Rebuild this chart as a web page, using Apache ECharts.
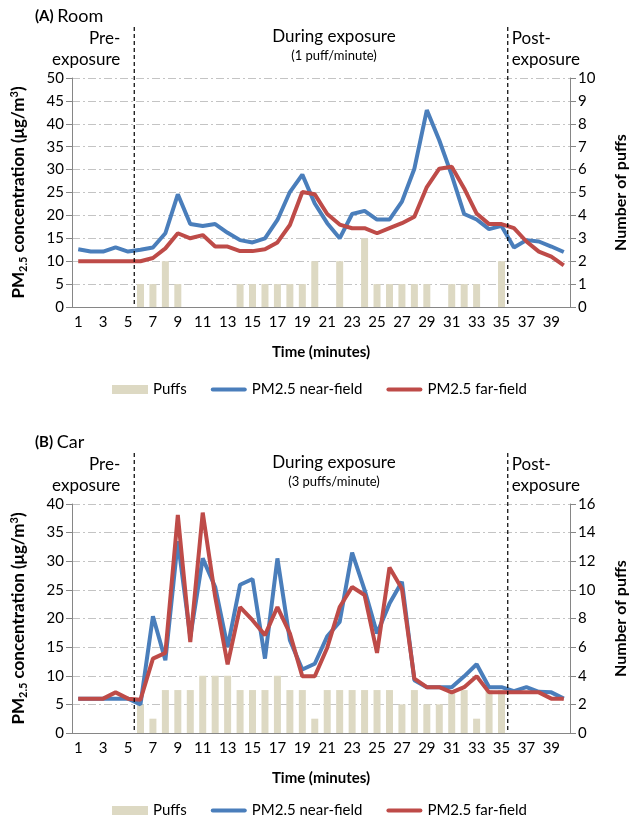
<!DOCTYPE html>
<html>
<head>
<meta charset="utf-8">
<script src="https://cdn.jsdelivr.net/npm/echarts@6/dist/echarts.min.js"></script>
<style>
html, body { margin: 0; padding: 0; background: #fff; }
#main { width: 638px; height: 821px; }
</style>
</head>
<body>
<div id="main"></div>
<script>
// minutes 1..40
var minutes = ['1','2','3','4','5','6','7','8','9','10','11','12','13','14','15','16','17','18','19','20',
               '21','22','23','24','25','26','27','28','29','30','31','32','33','34','35','36','37','38','39','40'];

// (A) Room
var roomPuffs = [0,0,0,0,0,1,1,2,1,0,0,0,0,1,1,1,1,1,1,2,0,2,0,3,1,1,1,1,1,0,1,1,1,0,2,0,0,0,0,0];
var roomNear = [12.6,12.1,12.1,13.0,12.1,12.5,13.0,16.1,24.6,18.1,17.7,18.1,16.2,14.6,14.1,15.0,19.0,25.1,28.9,22.6,
                18.3,15.0,20.3,21.0,19.1,19.1,23.0,30.2,43.0,36.4,28.8,20.3,19.1,17.0,17.7,13.0,14.6,14.3,13.2,12.0];
var roomFar = [10,10,10,10,10,10,10.7,12.8,16.1,15.0,15.7,13.2,13.2,12.2,12.2,12.6,14.1,17.9,25.1,24.6,
               20.3,18.0,17.2,17.2,16.1,17.2,18.3,19.7,26.2,30.2,30.6,25.9,20.4,18.1,18.1,17.2,14.3,12.1,11.0,9.1];

// (B) Car
var carPuffs = [0,0,0,0,0,2,1,3,3,3,4,4,4,3,3,3,4,3,3,1,3,3,3,3,3,3,2,3,2,2,3,3,1,3,3,0,0,0,0,0];
var carNear = [6,6,6,6,6,5.0,20.4,12.7,33.5,16.8,30.5,25.5,15.0,25.9,26.9,13.0,30.5,16.2,11.1,12.1,
               16.9,19.4,31.5,25.0,17.4,22.6,26.4,9.2,8.0,8.0,8.0,9.9,12.0,8.0,8.0,7.3,8.0,7.2,7.1,6.0];
var carFar = [6,6,6,7.1,6,5.8,13.0,14.0,38.1,15.9,38.5,23.8,12.0,22.0,19.7,17.1,22.0,17.4,9.9,9.9,
              14.9,22.0,25.5,24.1,14.0,28.9,25.2,9.5,8.0,8.0,7.1,8.0,9.9,7.1,7.1,7.1,7.1,7.1,6.0,6.0];

var FONT = 'Lato';
var axisGrey = '#868686';
var lineIcon = 'path://M2,0H34A2,2 0 0 1 34,4H2A2,2 0 0 1 2,0Z';

function xAxisOf(g) {
    return {
        type: 'category', gridIndex: g, data: minutes, boundaryGap: true,
        name: 'Time (minutes)', nameLocation: 'middle', nameGap: 38,
        nameTextStyle: { fontFamily: FONT, fontSize: 15, fontWeight: 'bold', color: '#000' },
        axisLine: { lineStyle: { color: axisGrey } },
        axisTick: { interval: 0, length: 5, lineStyle: { color: axisGrey } },
        axisLabel: { interval: 1, fontFamily: FONT, fontSize: 15, color: '#000', margin: 8 },
        splitLine: { show: false }
    };
}

function leftAxisOf(g, max) {
    return {
        type: 'value', gridIndex: g, min: 0, max: max, interval: 5, position: 'left',
        name: '{b|PM}{s|2.5}{b| concentration (μg/m}{p|3}{b|)}',
        nameLocation: 'middle', nameGap: 43, nameRotate: 90,
        nameTextStyle: {
            rich: {
                b: { fontFamily: FONT, fontSize: 17, fontWeight: 'bold', color: '#000', lineHeight: 20 },
                s: { fontFamily: FONT, fontSize: 11, fontWeight: 'bold', color: '#000', lineHeight: 10, verticalAlign: 'bottom' },
                p: { fontFamily: FONT, fontSize: 11, fontWeight: 'bold', color: '#000', lineHeight: 10, verticalAlign: 'top' }
            }
        },
        axisLine: { show: true, lineStyle: { color: axisGrey } },
        axisTick: { show: true, length: 6, lineStyle: { color: axisGrey } },
        axisLabel: { fontFamily: FONT, fontSize: 15, color: '#000', margin: 8 },
        splitLine: { show: true, lineStyle: { color: '#c4c4c4', width: 1, type: [8, 3, 2, 3] } }
    };
}

function rightAxisOf(g, max, step) {
    return {
        type: 'value', gridIndex: g, min: 0, max: max, interval: step, position: 'right',
        name: 'Number of puffs', nameLocation: 'middle', nameGap: 43,
        nameTextStyle: { fontFamily: FONT, fontSize: 16, fontWeight: 'bold', color: '#000' },
        axisLine: { show: true, lineStyle: { color: axisGrey } },
        axisTick: { show: true, length: 6, lineStyle: { color: axisGrey } },
        axisLabel: { fontFamily: FONT, fontSize: 15, color: '#000', margin: 8 },
        splitLine: { show: false }
    };
}

function seriesOf(g, puffs, near, far) {
    return [
        { name: 'Puffs', type: 'bar', xAxisIndex: g, yAxisIndex: g * 2 + 1, data: puffs,
          barWidth: 7, itemStyle: { color: '#ddd9c3' }, silent: true },
        { name: 'PM2.5 near-field', type: 'line', xAxisIndex: g, yAxisIndex: g * 2, data: near,
          symbol: 'none', lineStyle: { color: '#4a7ebb', width: 4 }, itemStyle: { color: '#4a7ebb' } },
        { name: 'PM2.5 far-field', type: 'line', xAxisIndex: g, yAxisIndex: g * 2, data: far,
          symbol: 'none', lineStyle: { color: '#be4b48', width: 4 }, itemStyle: { color: '#be4b48' } }
    ];
}

function legendOf(top) {
    return {
        top: top, left: 107, itemWidth: 36, itemHeight: 9, itemGap: 24,
        textStyle: { fontFamily: FONT, fontSize: 15, color: '#000' },
        data: [{ name: 'Puffs', icon: 'rect' },
               { name: 'PM2.5 near-field', icon: lineIcon },
               { name: 'PM2.5 far-field', icon: lineIcon }]
    };
}

var option = {
    animation: false,
    grid: [
        { left: 72, width: 498, top: 78, height: 229 },
        { left: 72, width: 498, top: 504, height: 229 }
    ],
    xAxis: [xAxisOf(0), xAxisOf(1)],
    yAxis: [leftAxisOf(0, 50), rightAxisOf(0, 10, 1), leftAxisOf(1, 40), rightAxisOf(1, 16, 2)],
    legend: [legendOf(377), legendOf(798)],
    series: seriesOf(0, roomPuffs, roomNear, roomFar).concat(seriesOf(1, carPuffs, carNear, carFar))
};

var chart = echarts.init(document.getElementById('main'));
chart.setOption(option);

// divider lines and phase labels, placed from the category axis
var panels = [
    { g: 0, title: 'Room', tag: '(A) ', rate: '(1 puff/minute)', top: 78, bottom: 307 },
    { g: 1, title: 'Car', tag: '(B) ', rate: '(3 puffs/minute)', top: 504, bottom: 733 }
];
var graphics = [];
panels.forEach(function (p) {
    var x5 = chart.convertToPixel({ xAxisIndex: p.g }, '5');
    var x6 = chart.convertToPixel({ xAxisIndex: p.g }, '6');
    var x35 = chart.convertToPixel({ xAxisIndex: p.g }, '35');
    var x36 = chart.convertToPixel({ xAxisIndex: p.g }, '36');
    var xPre = (x5 + x6) / 2, xPost = (x35 + x36) / 2;
    var t = p.top;
    [xPre, xPost].forEach(function (x) {
        graphics.push({ type: 'line', shape: { x1: x, y1: t - 51, x2: x, y2: p.bottom },
            style: { stroke: '#000', lineWidth: 1.2, lineDash: [4, 3] }, z: 10 });
    });
    var txt = { fontFamily: FONT, fontSize: 17, fill: '#000' };
    function text(x, y, s, align, extra) {
        graphics.push({ type: 'text', x: x, y: y,
            style: Object.assign({ text: s, textAlign: align, textVerticalAlign: 'middle' }, txt, extra || {}) });
    }
    graphics.push({ type: 'text', x: 35, y: t - 62,
        style: { rich: { b: { fontFamily: FONT, fontSize: 15, fontWeight: 'bold', fill: '#000' },
                         n: { fontFamily: FONT, fontSize: 18, fill: '#000' } },
                 text: '{b|' + p.tag + '}{n|' + p.title + '}', textVerticalAlign: 'middle' } });
    text(xPre - 14, t - 39, 'Pre-', 'right');
    text(xPre - 14, t - 18, 'exposure', 'right');
    text(xPost + 4, t - 39, 'Post-', 'left');
    text(xPost + 4, t - 18, 'exposure', 'left');
    text((xPre + xPost) / 2 + 13, t - 41, 'During exposure', 'center');
    text((xPre + xPost) / 2 + 13, t - 22, p.rate, 'center', { fontSize: 13 });
});
chart.setOption({ graphic: graphics });
</script>
</body>
</html>
